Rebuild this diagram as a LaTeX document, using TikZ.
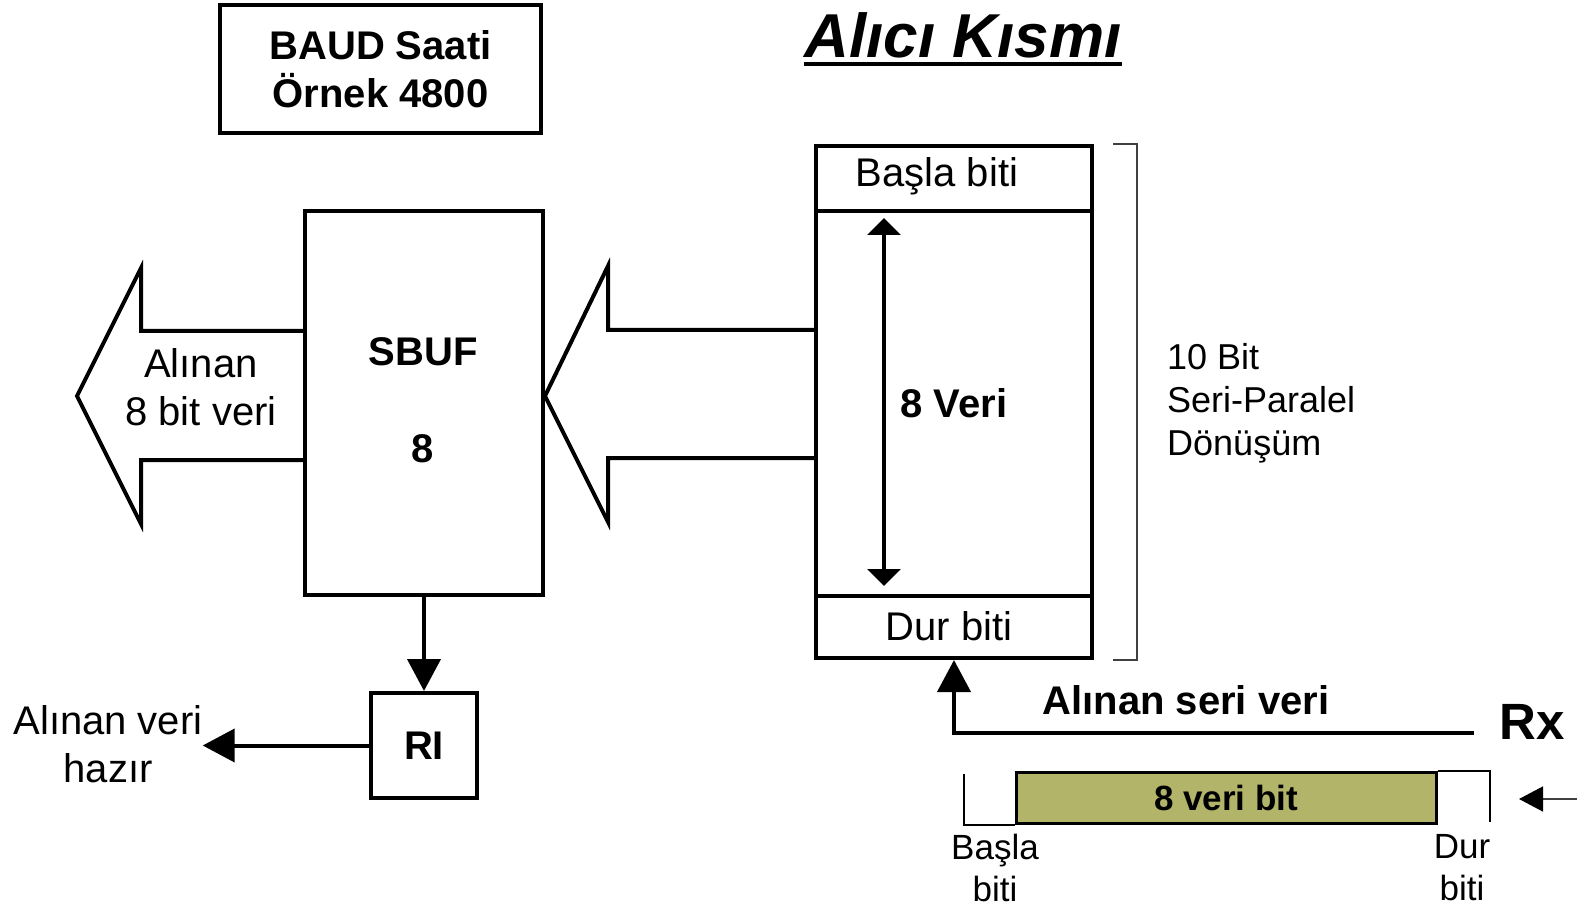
\documentclass[tikz,border=0pt]{standalone}
\usepackage{fontspec}
\setmainfont{Liberation Sans}
\usepackage{xcolor}
\definecolor{cData}{HTML}{B2B46A}
\definecolor{cThin}{HTML}{404040}
\usetikzlibrary{positioning,arrows.meta}
\newcommand{\fsMain}{\fontsize{40}{48}\selectfont}
\newcommand{\fsSide}{\fontsize{36}{43}\selectfont}
\newcommand{\fsBit}{\fontsize{35}{42}\selectfont}
\tikzset{
  node-box/.style={draw,line width=4pt,inner sep=0pt,align=center,font=\fsMain},
  node-label/.style={inner sep=0pt,align=center,font=\fsMain},
  node-frame/.style={draw,line width=3pt,fill=cData,inner sep=0pt,
    minimum width=420pt,minimum height=51pt,font=\fsBit\bfseries},
  big-arrow/.style={line width=4pt,line join=miter},
  arrow/.style={-{Triangle[length=32pt,width=33pt]},line width=4pt},
  arrow-both/.style={{Triangle[length=17pt,width=33pt]}-{Triangle[length=17pt,width=33pt]},line width=4pt},
  arrow-thin/.style={-{Triangle[length=24pt,width=25pt,color=black]},line width=1.5pt,draw=cThin},
  wave/.style={line width=2pt},
  bracket/.style={line width=1.5pt,draw=cThin},
}

\begin{document}
\begin{tikzpicture}[x=1pt,y=-1pt]
  \useasboundingbox (0,0) rectangle (1580,909);
  % clock and title
  \node[node-box,font=\fsMain\bfseries,minimum width=321pt,minimum height=128pt] (baud) at (380.5,69) {BAUD Saati\\Örnek 4800};
  \node[node-label,font=\fontsize{62}{70}\selectfont\bfseries\itshape,anchor=base] (title) at (963,58) {Alıcı Kısmı};
  \draw[line width=3.5pt] ([yshift=-6pt]title.base west) -- ([yshift=-6pt]title.base east);

  % shift register
  \node[node-box,minimum width=276pt,minimum height=65pt] (start) at (954,178.5) {};
  \node[node-label] (start-text) at (937,176) {Başla biti};
  \node[node-box,minimum width=276pt,minimum height=385pt,font=\fsMain\bfseries] (data) at (954,403.5) {8 Veri};
  \node[node-box,minimum width=276pt,minimum height=62pt] (stop) at (954,627) {};
  \node[node-label] (stop-text) at (949,626) {Dur biti};
  \draw[bracket] ([xshift=19pt]start.north east) -- ++(24,0) |- ([xshift=19pt]stop.south east);
  \node[node-label,font=\fsSide,align=left,anchor=west] (conv) at (1167,403) {10 Bit\\Seri-Paralel\\Dönüşüm};

  % SBUF and RI
  \node[node-box,minimum width=238pt,minimum height=384pt] (sbuf) at (424,403) {};
  \node[node-label,font=\fsMain\bfseries] (sbuf-name) at (423,352) {SBUF};
  \node[node-label,font=\fsMain\bfseries] (sbuf-size) at (423,449) {8};
  \node[node-box,minimum width=106pt,minimum height=105pt,font=\fsMain\bfseries] (ri) at (424,745.5) {RI};
  \node[node-label] (ready) at (108,744.5) {Alınan veri\\hazır};

  % wide arrows
  \draw[big-arrow] (sbuf.west |- 0,331) -- (141,331) -- (141,268) -- (77,396)
    -- (141,524) -- (141,460) -- (sbuf.west |- 0,460);
  \node[node-label] (recv) at (201,387) {Alınan\\8 bit veri};
  \draw[big-arrow] (data.west |- 0,330) -- (608,330) -- (608,266) -- (sbuf.east |- 0,396)
    -- (608,522) -- (608,458) -- (data.west |- 0,458);

  % connectors
  \draw[arrow] (sbuf.south) -- (ri.north);
  \draw[arrow] (ri.west) -- (ri.west -| ready.east);
  \draw[arrow-both] ([xshift=-70pt,yshift=-9pt]data.north) -- ([xshift=-70pt,yshift=12pt]data.south);

  % serial input
  \node[node-label,font=\fontsize{51}{60}\selectfont\bfseries] (rx) at (1532,722) {Rx};
  \node[node-label,font=\fsMain\bfseries] (serial) at (1186,700) {Alınan seri veri};
  \coordinate (rx-in) at (1474,733);
  \draw[arrow] (rx-in) -- (rx-in -| stop.south) -- (stop.south);

  % frame
  \node[node-frame] (frame) at (1226,797.5) {8 veri bit};
  \draw[wave] (frame.south west) -- ++(-51,0) -- ++(0,-51);
  \draw[wave] (frame.north east) -- ++(52,0) -- ++(0,51);
  \node[node-label,font=\fsBit] (frame-start) at (995,868) {Başla\\biti};
  \node[node-label,font=\fsBit] (frame-stop) at (1462,868) {Dur\\biti};
  \coordinate (wave-src) at (1577,799);
  \coordinate (wave-tip) at (1519,799);
  \draw[arrow-thin] (wave-src) -- (wave-tip);
\end{tikzpicture}
\end{document}
